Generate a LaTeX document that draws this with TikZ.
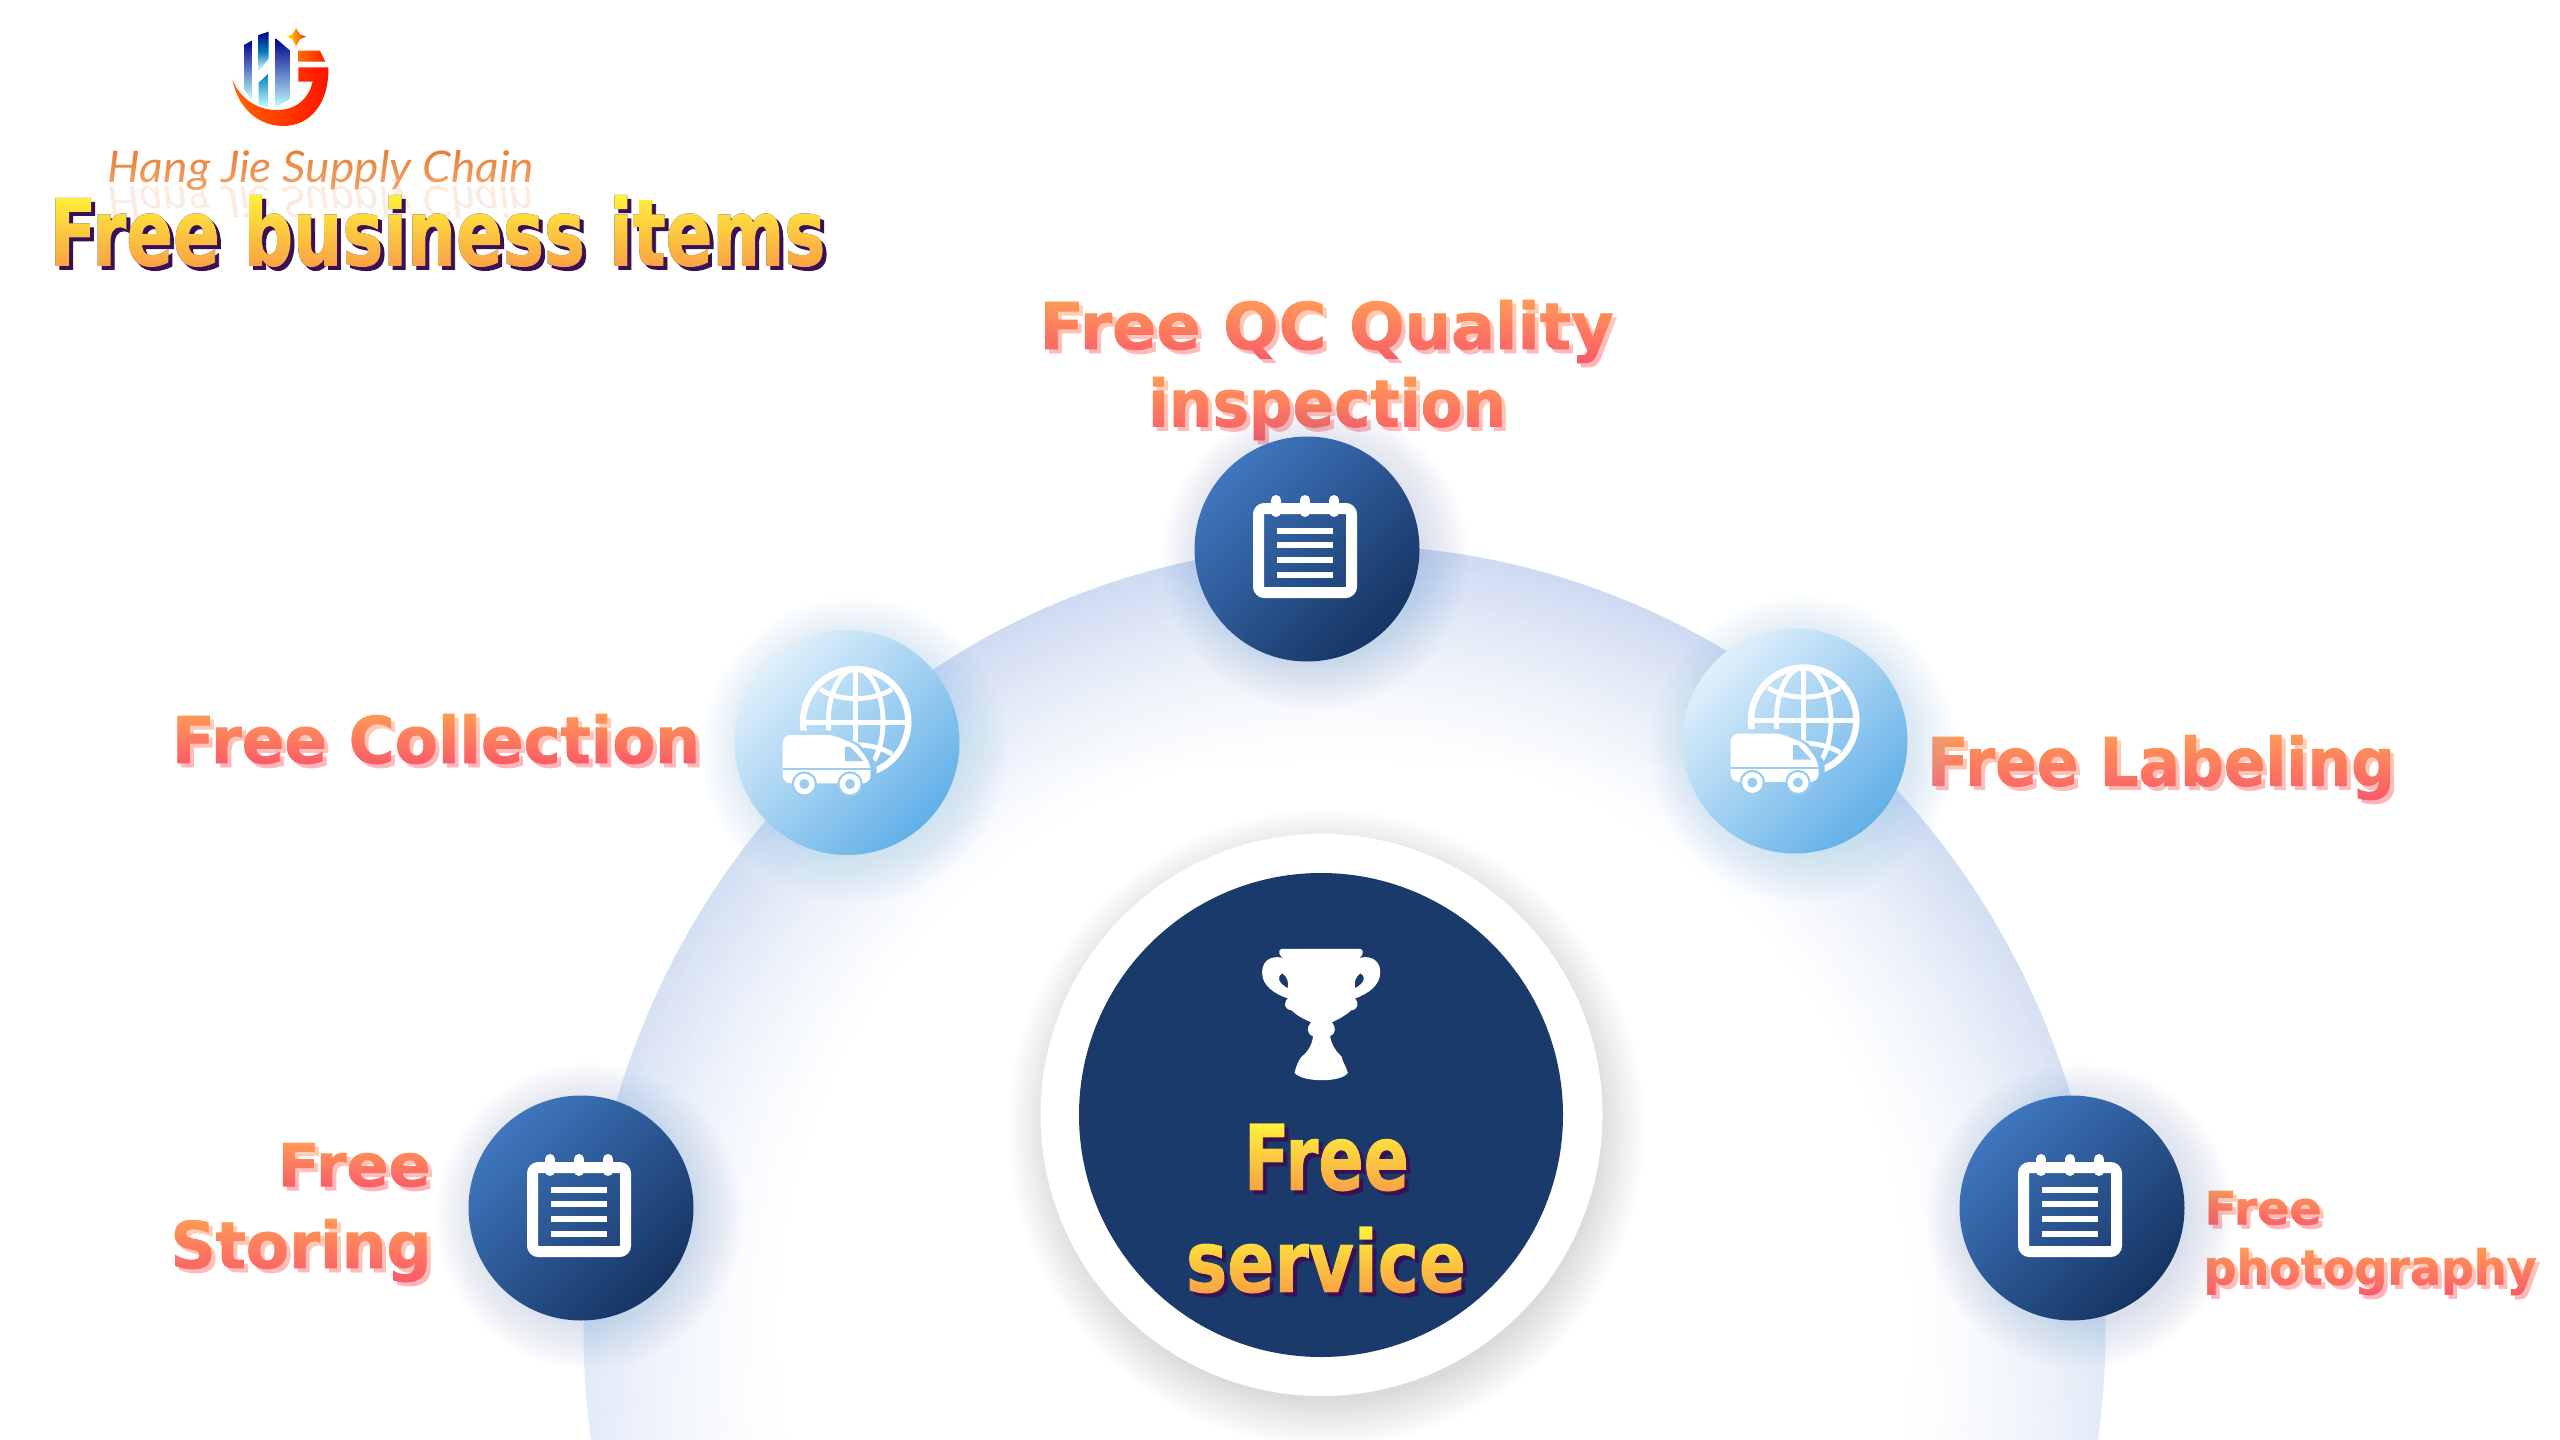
\documentclass[tikz,border=0pt]{standalone}
\usepackage{fontspec}
\usepackage{graphicx}
\usetikzlibrary{calc}
\newfontfamily\blockfont{DejaVu Sans}[BoldFeatures={FakeBold=1.2}]
\newfontfamily\hangfont{Lato}
\newcommand{\pxd}[1]{\dimexpr #1pt/2\relax}
\newcommand{\blockbox}[3]{\resizebox*{\pxd{#1}}{\pxd{#2}}{\blockfont\bfseries #3}}
\definecolor{haloedge}{HTML}{CEDBF1}
\definecolor{navy}{HTML}{1A3A6B}
\definecolor{darka}{HTML}{3F76BE}
\definecolor{darkb}{HTML}{163463}
\definecolor{lighta}{HTML}{E0F0FB}
\definecolor{lightb}{HTML}{62B0E8}
\definecolor{skymid}{HTML}{9CCDF0}
\definecolor{pinka}{HTML}{FF9E55}
\definecolor{pinkb}{HTML}{F94F6C}
\definecolor{pinkunder}{HTML}{CC8C8C}
\definecolor{gold}{HTML}{FFF53A}
\definecolor{amber}{HTML}{F99D45}
\definecolor{plum}{HTML}{3A0F55}
\definecolor{glowblue}{HTML}{3E6FB5}
\definecolor{hangtop}{HTML}{E8782A}
\definecolor{hangbottom}{HTML}{F2AC78}
\tikzset{
  dot/.style={circle,inner sep=0pt,minimum size=225*0.5pt},
  darkdot/.style={dot,top color=darka,bottom color=darkb,shading angle=45},
  lightdot/.style={dot,top color=lighta,bottom color=lightb,shading angle=45},
  pinkshade/.style={top color=pinka,bottom color=pinkb},
  goldshade/.style={top color=gold,bottom color=amber},
  undertext/.style={inner sep=0pt,text=pinkunder},
  basetext/.style={inner sep=0pt,text=black},
  plumtext/.style={inner sep=0pt,text=plum},
  notepad/.pic={
    \draw[white,line width=5.5pt,rounded corners=3pt] (-48.5,-40.5) rectangle (44.5,43.5);
    \foreach \rx in {-31,-2,27}{\draw[white,line width=5pt,line cap=round] (\rx,-49) -- (\rx,-37);}
    \foreach \ry in {-18,-4,11,26}{\fill[white] (-30,\ry-3) rectangle (26,\ry+3);}
  },
  globetruck/.pic={
    \begin{scope}[shift={(-167,-142.5)},scale=1/3]
      \begin{scope}
        \clip (345,185) -- (710,185) -- (710,530) -- (590,525) -- (590,490) -- (570,465) -- (535,430) -- (510,418) -- (478,392) -- (345,392) -- cycle;
        \draw[white,line width=3.2pt] (527,365) circle (158);
        \draw[white,line width=2.4pt] (527,207) -- (527,523) (369,367) -- (685,367);
        \draw[white,line width=2.4pt] (527,365) ellipse (82 and 158);
        \draw[white,line width=2.4pt] (420,268) .. controls (480,305) and (575,305) .. (636,268);
        \draw[white,line width=2.4pt] (420,462) .. controls (480,425) and (575,425) .. (636,462);
      \end{scope}
      \fill[white,rounded corners=4pt] (308,405) -- (470,405) -- (490,425) -- (522,425) -- (572,490) -- (572,550) -- (308,550) -- cycle;
      \fill[skymid] (495,440) -- (510,440) -- (550,483) -- (495,483) -- cycle;
      \fill[skymid] (308,505) rectangle (572,510);
      \foreach \wx in {373,510}{
        \fill[skymid] (\wx,552) circle (38);
        \fill[white] (\wx,552) circle (31);
        \fill[skymid] (\wx,552) circle (15);
      }
    \end{scope}
  },
  trophy/.pic={
    \begin{scope}[shift={(-301,-295)},scale=0.395]
      \fill[white,even odd rule] (662,326) -- (862,326) .. controls (872,330) and (868,345) .. (858,350) .. controls (880,342) and (912,350) .. (912,385) .. controls (912,420) and (880,440) .. (848,452) .. controls (860,465) and (855,480) .. (838,482) .. controls (825,495) and (805,505) .. (790,512) .. controls (800,525) and (800,540) .. (785,548) .. controls (790,575) and (805,590) .. (815,600) .. controls (815,610) and (822,615) .. (830,640) .. controls (815,665) and (715,665) .. (695,640) .. controls (700,620) and (705,610) .. (712,600) .. controls (725,590) and (738,575) .. (742,548) .. controls (725,540) and (725,525) .. (737,512) .. controls (720,505) and (700,495) .. (688,482) .. controls (670,480) and (665,465) .. (678,452) .. controls (645,440) and (612,420) .. (613,385) .. controls (613,350) and (645,342) .. (668,350) .. controls (655,345) and (652,330) .. (662,326) -- cycle
      (664,388) .. controls (650,395) and (652,412) .. (678,426) .. controls (680,410) and (678,398) .. (664,388) -- cycle
      (862,388) .. controls (876,395) and (874,412) .. (848,426) .. controls (846,410) and (848,398) .. (862,388) -- cycle;
    \end{scope}
  }
}
% #1 name, #2 cx, #3 cy, #4 w, #5 h, #6 text : pale copy, then black face turned to the gradient by a screen rectangle
\newcommand{\pinkline}[6]{%
  \node[undertext] (#1under) at ({#2+4},{#3+4}) {\blockbox{#4}{#5}{#6}};
  \node[basetext] (#1) at (#2,#3) {\blockbox{#4}{#5}{#6}};
  \shade[blend mode=screen,pinkshade] ({#2-#4/2-8},{#3-#5/2-4}) rectangle ({#2+#4/2+12},{#3+#5/2+10});}
% gold face: plum shadow, black base, then a screened group (black ground, white text, multiplied gradient)
\newcommand{\goldline}[6]{%
  \node[plumtext] (#1under) at ({#2+4},{#3+4}) {\blockbox{#4}{#5}{#6}};
  \node[basetext] (#1base) at (#2,#3) {\blockbox{#4}{#5}{#6}};
  \begin{scope}[blend mode=screen]
    \begin{scope}[transparency group]
      \fill[black] ({#2-#4/2-14},{#3-#5/2-14}) rectangle ({#2+#4/2+14},{#3+#5/2+14});
      \node[inner sep=0pt,text=white] (#1) at (#2,#3) {\blockbox{#4}{#5}{#6}};
      \shade[blend mode=multiply,goldshade] ({#2-#4/2-8},{#3-#5/2-4}) rectangle ({#2+#4/2+8},{#3+#5/2+4});
    \end{scope}
  \end{scope}}
\newcommand{\softglow}[5]{% x, y, radius, colour, opacity
  \foreach \gr in {4,8,...,48}{\fill[#4,opacity=#5] (#1,#2) circle ({#3+\gr});}}
\begin{document}
\begin{tikzpicture}[x=0.5pt,y=-0.5pt]
\useasboundingbox (0,0) rectangle (2560,1440);
\fill[white] (0,0) rectangle (2560,1440);
% captions first: their screen rectangles must lie on plain white
\pinkline{qctext}{1326.5}{331.5}{574}{63}{Free QC Quality}
\pinkline{insptext}{1327}{408.5}{358}{63}{inspection}
\pinkline{colltext}{436}{739}{528}{50}{Free Collection}
\pinkline{labeltext}{2161}{767.5}{468}{65}{Free Labeling}
\pinkline{freeatext}{354}{1165}{153}{44}{Free}
\pinkline{stortext}{301}{1250.5}{261}{63}{Storing}
\pinkline{freebtext}{2263}{1208}{117}{34}{Free}
\pinkline{phototext}{2370}{1271.5}{333}{47}{photography}
\node[basetext] (hang) at (321,170) {\resizebox*{\pxd{426}}{\pxd{40}}{\hangfont\itshape Hang Jie Supply Chain}};
\shade[blend mode=screen,top color=hangtop,bottom color=hangbottom] (100,146) rectangle (542,194);
\node[inner sep=0pt,text=hangtop,opacity=0.14] (hangmirror) at (321,199) {\resizebox*{\pxd{426}}{\pxd{40}}{\scalebox{1}[-1]{\hangfont\itshape Hang Jie Supply Chain}}};
% halo
\begin{scope}
  \clip (0,0) rectangle (2560,1440);
  \foreach \hs in {0,...,44}{
    \pgfmathsetmacro{\hk}{100*(1-\hs/44)^1.5}
    \pgfmathsetmacro{\hf}{1-0.0065*\hs}
    \fill[haloedge!\hk!white] (1344.5,1330) ellipse ({761*\hf} and {785*\hf});
  }
  \shade[blend mode=screen,top color=black,bottom color=black!55!white] (570,760) rectangle (2120,1440);
\end{scope}
% centre
\softglow{1326}{1128}{270}{black}{0.012}
\node[circle,fill=white,inner sep=0pt,minimum size=281pt] (whiteplate) at (1321.5,1115) {};
\node[circle,fill=navy,inner sep=0pt,minimum size=242pt] (hub) at (1321,1115) {};
\pic at (hub.center) {trophy};
% satellites
\softglow{1315}{557}{105}{glowblue}{0.014}
\softglow{855}{750}{105}{skymid}{0.03}
\softglow{1803}{749}{105}{skymid}{0.03}
\softglow{589}{1216}{105}{glowblue}{0.014}
\softglow{2080}{1216}{105}{glowblue}{0.014}
\node[darkdot] (qc) at (1307,549) {};
\node[lightdot] (collect) at (847,742.5) {};
\node[lightdot] (labeling) at (1795,741) {};
\node[darkdot] (storing) at (581,1208) {};
\node[darkdot] (photo) at (2072,1208) {};
\pic at (qc.center) {notepad};
\pic at (storing.center) {notepad};
\pic at (photo.center) {notepad};
\pic at (collect.center) {globetruck};
\pic at (labeling.center) {globetruck};
% logo
\begin{scope}[shift={(220,20)},scale=1/3]
  \shade[left color=orange!80!red,right color=red!85!orange] (37,178) .. controls (55,270) and (120,318) .. (190,318) .. controls (270,318) and (328,250) .. (325,142) -- (235,142) -- (235,185) -- (278,185) .. controls (265,240) and (225,270) .. (170,270) .. controls (110,270) and (60,235) .. (37,178) -- cycle;
  \shade[left color=orange!85!red,right color=red!75!orange] (235,92) -- (300,92) -- (316,125) -- (235,125) -- cycle;
  \shade[top color=blue!55!black,middle color=blue!35!cyan!75!black,bottom color=cyan!25!white] (72,75) -- (95,62) -- (95,238) -- (72,208) -- cycle;
  \shade[top color=blue!55!black,middle color=blue!35!cyan!75!black] (116,45) -- (146,35) -- (146,115) -- (116,155) -- cycle;
  \shade[top color=blue!35!cyan!75!black,bottom color=cyan!25!white] (116,188) -- (146,160) -- (146,262) -- (116,255) -- cycle;
  \shade[top color=blue!55!black,middle color=blue!35!cyan!75!black,bottom color=cyan!25!white] (167,55) -- (208,90) -- (208,238) -- (167,262) -- cycle;
  \shade[left color=yellow!90!orange,right color=red!80!orange] (228,25) -- (240,43) -- (258,50) -- (240,57) -- (228,78) -- (217,57) -- (200,50) -- (217,43) -- cycle;
\end{scope}
% gold lines
\goldline{titletext}{437.5}{231}{776}{71}{Free business items}
\goldline{freectext}{1326.5}{1157.5}{165}{67}{Free}
\goldline{servtext}{1326}{1260}{280}{66}{service}
\end{tikzpicture}
\end{document}
